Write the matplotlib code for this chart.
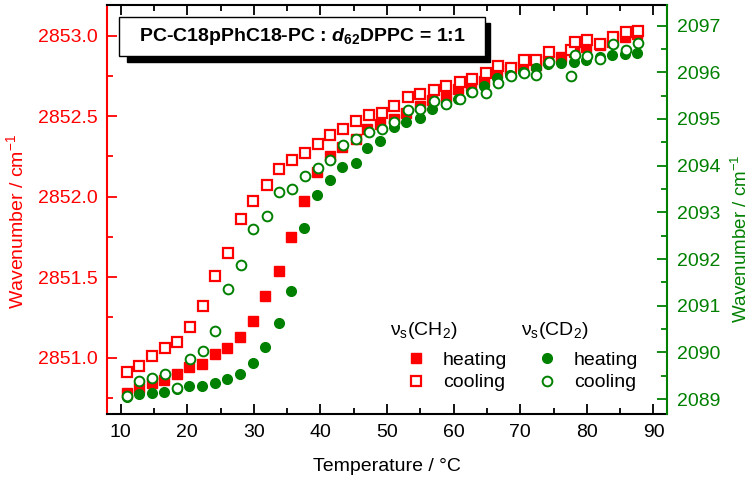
import matplotlib
matplotlib.use('Agg')
import matplotlib.pyplot as plt
from matplotlib.ticker import MultipleLocator, FormatStrFormatter
from matplotlib.patches import Rectangle

plt.rcParams['font.family'] = ['Liberation Sans', 'DejaVu Sans']
plt.rcParams['mathtext.fontset'] = 'custom'
plt.rcParams['mathtext.rm'] = 'Liberation Sans'
plt.rcParams['mathtext.it'] = 'Liberation Sans:italic'
plt.rcParams['mathtext.bf'] = 'Liberation Sans:bold'
plt.rcParams['mathtext.bfit'] = 'Liberation Sans:italic:bold'
plt.rcParams['mathtext.default'] = 'regular'

# temperatures (°C)
temp_heat = [10.9, 12.7, 14.65, 16.5, 18.4, 20.2, 22.2, 24.1, 26.0, 27.9, 29.8,
             31.7, 33.7, 35.6, 37.6, 39.5, 41.4, 43.3, 45.3, 47.0, 49.0, 51.0,
             52.9, 54.9, 56.8, 58.8, 60.6, 62.6, 64.5, 66.5, 68.5, 70.4, 72.3,
             74.2, 76.1, 78.0, 79.9, 81.9, 83.8, 85.7, 87.6]
temp_cool = [11.0, 12.8, 14.7, 16.6, 18.5, 20.4, 22.3, 24.2, 26.1, 28.0, 29.9,
             31.9, 33.8, 35.7, 37.7, 39.6, 41.5, 43.4, 45.4, 47.3, 49.3, 51.1,
             53.1, 55.0, 57.0, 58.8, 60.9, 62.8, 64.8, 66.6, 68.6, 70.5, 72.4,
             74.3, 77.6, 78.2, 80.0, 81.9, 83.9, 85.8, 87.7]

# nu_s(CH2), left axis
ch2_heat = [2850.78, 2850.81, 2850.84, 2850.86, 2850.90, 2850.94, 2850.96, 2851.02,
            2851.06, 2851.13, 2851.23, 2851.38, 2851.54, 2851.75, 2851.97, 2852.15,
            2852.25, 2852.31, 2852.36, 2852.42, 2852.45, 2852.48, 2852.52, 2852.56,
            2852.60, 2852.62, 2852.67, 2852.69, 2852.72, 2852.77, 2852.79, 2852.81,
            2852.82, 2852.85, 2852.87, 2852.90, 2852.93, 2852.94, 2852.96, 2852.99,
            2853.01]
ch2_cool = [2850.91, 2850.95, 2851.01, 2851.06, 2851.10, 2851.19, 2851.32, 2851.51,
            2851.65, 2851.86, 2851.97, 2852.07, 2852.17, 2852.23, 2852.27, 2852.33,
            2852.38, 2852.42, 2852.47, 2852.51, 2852.52, 2852.56, 2852.62, 2852.64,
            2852.66, 2852.69, 2852.71, 2852.73, 2852.77, 2852.81, 2852.80, 2852.85,
            2852.85, 2852.90, 2852.91, 2852.96, 2852.97, 2852.95, 2852.99, 2853.02,
            2853.03]

# nu_s(CD2), right axis
cd2_heat = [2089.05, 2089.11, 2089.12, 2089.16, 2089.22, 2089.28, 2089.29, 2089.34,
            2089.44, 2089.54, 2089.78, 2090.12, 2090.63, 2091.31, 2092.66, 2093.37,
            2093.69, 2093.97, 2094.05, 2094.38, 2094.52, 2094.82, 2094.94, 2095.03,
            2095.21, 2095.32, 2095.42, 2095.58, 2095.71, 2095.87, 2095.94, 2096.00,
            2096.10, 2096.18, 2096.20, 2096.22, 2096.27, 2096.32, 2096.37, 2096.40,
            2096.42]
cd2_cool = [2089.07, 2089.39, 2089.46, 2089.54, 2089.23, 2089.85, 2090.03, 2090.46,
            2091.35, 2091.88, 2092.65, 2092.93, 2093.43, 2093.51, 2093.78, 2093.94,
            2094.12, 2094.44, 2094.56, 2094.71, 2094.78, 2094.94, 2095.19, 2095.21,
            2095.39, 2095.33, 2095.42, 2095.57, 2095.55, 2095.78, 2095.92, 2095.99,
            2095.94, 2096.21, 2095.92, 2096.38, 2096.34, 2096.28, 2096.60, 2096.47,
            2096.63]

RED = '#ff0000'
GREEN = '#008000'

fig = plt.figure(figsize=(7.56, 4.8), dpi=100)
ax = fig.add_axes([0.142, 0.1375, 0.740, 0.852])
ax2 = ax.twinx()

ax.plot(temp_heat, ch2_heat, 's', color=RED, ms=6.5, mec=RED, ls='none')
ax.plot(temp_cool, ch2_cool, 's', color=RED, ms=6.5, mfc='white', mec=RED, mew=1.6, ls='none')
h_gh, = ax2.plot(temp_heat, cd2_heat, 'o', color=GREEN, ms=7, mec=GREEN, ls='none')
h_gc, = ax2.plot(temp_cool, cd2_cool, 'o', color=GREEN, ms=7, mfc='white', mec=GREEN, mew=1.4, ls='none')

ax.set_xlim(8, 92)
ax.set_ylim(2850.65, 2853.19)
ax2.set_ylim(2088.68, 2097.44)

ax.xaxis.set_major_locator(MultipleLocator(10))
ax.xaxis.set_minor_locator(MultipleLocator(5))
ax.yaxis.set_major_locator(MultipleLocator(0.5))
ax.yaxis.set_minor_locator(MultipleLocator(0.25))
ax.yaxis.set_major_formatter(FormatStrFormatter('%.1f'))
ax2.yaxis.set_major_locator(MultipleLocator(1))
ax2.yaxis.set_minor_locator(MultipleLocator(0.5))

ax.tick_params(axis='x', which='both', direction='in', top=True, width=1.3, labelsize=14, pad=7)
ax.tick_params(axis='x', which='major', length=7)
ax.tick_params(axis='x', which='minor', length=4)
ax.tick_params(axis='y', which='both', direction='in', color=RED, labelcolor=RED, width=1.3, labelsize=14, pad=7)
ax.tick_params(axis='y', which='major', length=7)
ax.tick_params(axis='y', which='minor', length=4)
ax2.tick_params(axis='y', which='both', direction='in', color=GREEN, labelcolor=GREEN, width=1.3, labelsize=14, pad=7)
ax2.tick_params(axis='y', which='major', length=7)
ax2.tick_params(axis='y', which='minor', length=4)

for a in (ax, ax2):
    for s in a.spines.values():
        s.set_linewidth(1.5)
ax.spines['right'].set_visible(False)
ax2.spines['left'].set_visible(False)
ax.spines['left'].set_color(RED)
ax2.spines['right'].set_color(GREEN)
ax2.spines['top'].set_visible(False)
ax2.spines['bottom'].set_visible(False)

ax.set_xlabel('Temperature / °C', fontsize=14)
ax.xaxis.set_label_coords(0.5, -0.108)
ax.set_ylabel('Wavenumber / cm$^{-1}$', fontsize=14, color=RED)
ax.yaxis.set_label_coords(-0.143, 0.47)
ax2.set_ylabel('Wavenumber / cm$^{-1}$', fontsize=13.5, color=GREEN)
ax2.yaxis.set_label_coords(1.114, 0.43)

# title box with shadow
ax2.add_patch(Rectangle((0.0345, 0.860), 0.650, 0.095, transform=ax2.transAxes,
                        facecolor='black', edgecolor='black', clip_on=False, zorder=5))
ax2.add_patch(Rectangle((0.0214, 0.875), 0.6534, 0.095, transform=ax2.transAxes,
                        facecolor='white', edgecolor='black', lw=1.0, clip_on=False, zorder=6))
ax2.text(0.348, 0.923, r'PC-C18pPhC18-PC : $\mathbfit{d}_{\mathbf{62}}$DPPC = 1:1',
         transform=ax2.transAxes, ha='center', va='center', fontsize=14,
         fontweight='bold', zorder=7)

# legend
ax2.text(0.505, 0.205, 'ν$_s$(CH$_2$)', transform=ax2.transAxes, fontsize=14, va='center')
ax2.text(0.74, 0.205, 'ν$_s$(CD$_2$)', transform=ax2.transAxes, fontsize=14, va='center')
h_rh = plt.Line2D([], [], marker='s', color=RED, ms=6.5, ls='none')
h_rc = plt.Line2D([], [], marker='s', color=RED, ms=6.5, mfc='white', mew=1.6, ls='none')
ax2.legend([h_rh, h_rc, h_gh, h_gc], ['heating', 'cooling', 'heating', 'cooling'],
           ncol=2, loc='upper left', bbox_to_anchor=(0.534, 0.153), frameon=False,
           fontsize=14, handlelength=1.0, handletextpad=0.89, columnspacing=1.55,
           labelspacing=0.24, borderpad=0, borderaxespad=0)

fig.savefig('out.png', dpi=100)
